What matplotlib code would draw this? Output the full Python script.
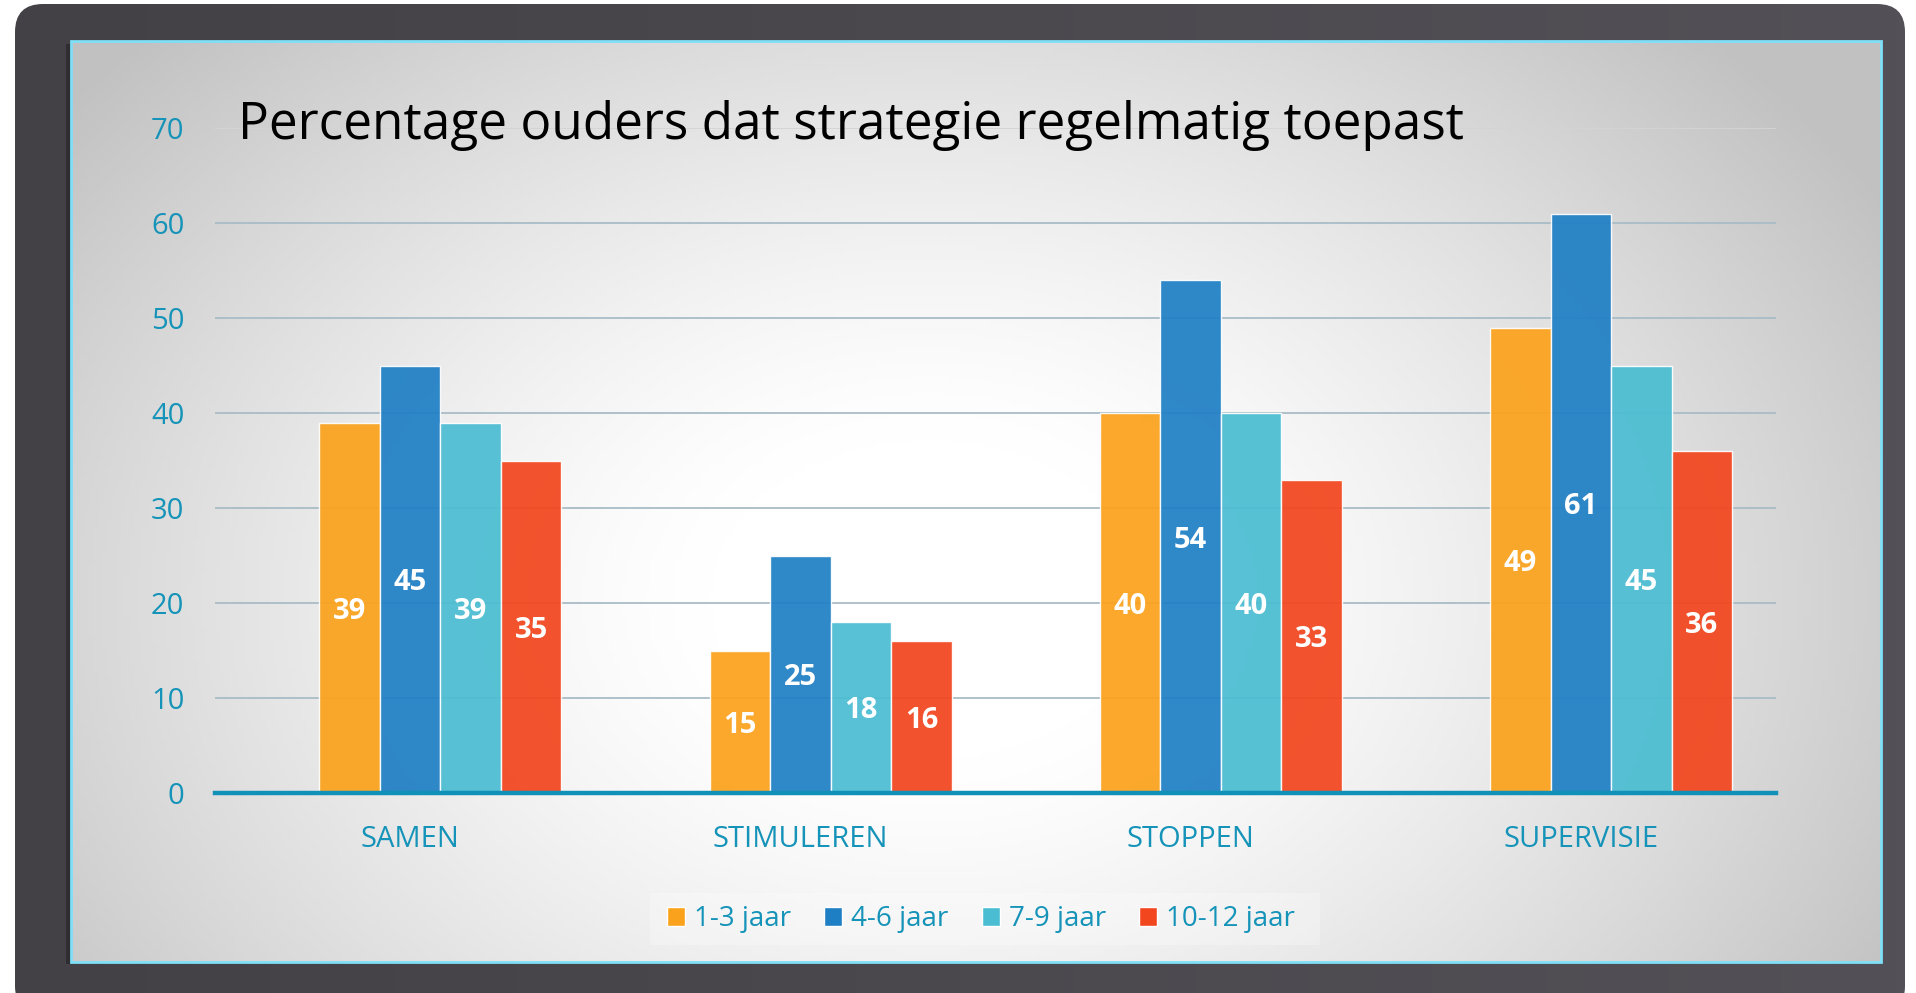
import numpy as np
import matplotlib.pyplot as plt
from matplotlib.colors import LinearSegmentedColormap
from matplotlib.patches import FancyBboxPatch, Rectangle

plt.rcParams['font.family'] = ['Open Sans', 'DejaVu Sans']

categories = ['SAMEN', 'STIMULEREN', 'STOPPEN', 'SUPERVISIE']
series_names = ['1-3 jaar', '4-6 jaar', '7-9 jaar', '10-12 jaar']
v_1_3 = [39, 15, 40, 49]
v_4_6 = [45, 25, 54, 61]
v_7_9 = [39, 18, 40, 45]
v_10_12 = [35, 16, 33, 36]
values = [v_1_3, v_4_6, v_7_9, v_10_12]
colors = ['#fba21c', '#1f7fc4', '#4bbdd2', '#f2461e']
yticks = [0, 10, 20, 30, 40, 50, 60, 70]

W, H = 1916, 993
teal = '#1593b8'

fig = plt.figure(figsize=(W / 100, H / 100), dpi=100)
fig.patch.set_facecolor('white')

# background: dark rounded frame + light panel with radial gradient
bg = fig.add_axes([0, 0, 1, 1])
bg.set_xlim(0, W)
bg.set_ylim(H, 0)
bg.axis('off')

frame = FancyBboxPatch((15, 4), 1890, 1010, boxstyle='round,pad=0,rounding_size=28',
                       facecolor='none', edgecolor='none')
bg.add_patch(frame)
gx = np.linspace(0, 1, 200)[None, :] * np.ones((10, 1))
fimg = bg.imshow(gx, extent=(15, 1905, 1014, 4),
                 cmap=LinearSegmentedColormap.from_list('fr', ['#434145', '#535057']),
                 aspect='auto', zorder=1)
fimg.set_clip_path(frame)

bg.add_patch(Rectangle((66, 44), 6, 920, facecolor='#2f2d31', edgecolor='none', zorder=2))

px0, px1, py0, py1 = 71, 1881, 41, 962
xx, yy = np.meshgrid(np.linspace(px0, px1, 400), np.linspace(py0, py1, 220))
d = np.sqrt(((xx - 930) / 1100) ** 2 + ((yy - 600) / 800) ** 2)
t = np.clip((d - 0.2) / 0.8, 0, 1)
shade = 1.0 - 0.24 * t ** 1.3
bg.imshow(np.dstack([shade, shade, shade]), extent=(px0, px1, py1, py0), aspect='auto', zorder=3)
bg.add_patch(Rectangle((px0, py0), px1 - px0, py1 - py0, facecolor='none',
                       edgecolor='#7fdff7', linewidth=2, zorder=4))
# soft band behind the legend
bg.add_patch(Rectangle((650, 893), 670, 52, facecolor='white', alpha=0.25, edgecolor='none', zorder=4))

# chart
ax = fig.add_axes([215 / W, 1 - 793 / H, (1776 - 215) / W, (793 - 128) / H])
ax.patch.set_alpha(0)
x = np.arange(len(categories))
w = 0.155
for i, (name, vals, c) in enumerate(zip(series_names, values, colors)):
    bars = ax.bar(x + (i - 1) * w, vals, width=w, color=c, alpha=0.93,
                  edgecolor=(1, 1, 1, 0.35), linewidth=1, label=name, zorder=3)
    for b, v in zip(bars, vals):
        ax.text(b.get_x() + b.get_width() / 2, v / 2, str(v), ha='center', va='center_baseline',
                color='white', fontsize=21, fontweight='bold', zorder=4)

ax.set_xlim(-0.5, 3.5)
ax.set_ylim(0, 70)
ax.set_yticks(yticks)
ax.set_xticks(x)
ax.set_xticklabels(categories)
ax.tick_params(axis='both', length=0, labelsize=21, labelcolor=teal)
ax.tick_params(axis='y', pad=22)
ax.tick_params(axis='x', pad=23)
ax.set_axisbelow(True)
ax.yaxis.grid(True, color='#a9bcc6', linewidth=1.3)
ax.get_ygridlines()[-1].set_color('#d2d4d6')
for s in ['top', 'right', 'left']:
    ax.spines[s].set_visible(False)
ax.spines['bottom'].set_color('#1190b8')
ax.spines['bottom'].set_linewidth(3.2)
ax.spines['bottom'].set_zorder(5)

fig.text(238 / W, 1 - 139 / H, 'Percentage ouders dat strategie regelmatig toepast',
         fontsize=37, color='black', va='baseline', ha='left')

leg = fig.legend(loc='center', bbox_to_anchor=(981 / W, 1 - 919 / H), ncol=4, frameon=False,
                 fontsize=20, handlelength=0.65, handleheight=0.65, handletextpad=0.32,
                 columnspacing=1.19, labelcolor=teal)
for h in leg.legend_handles:
    h.set_alpha(1)

fig.savefig('out.png', dpi=100)
